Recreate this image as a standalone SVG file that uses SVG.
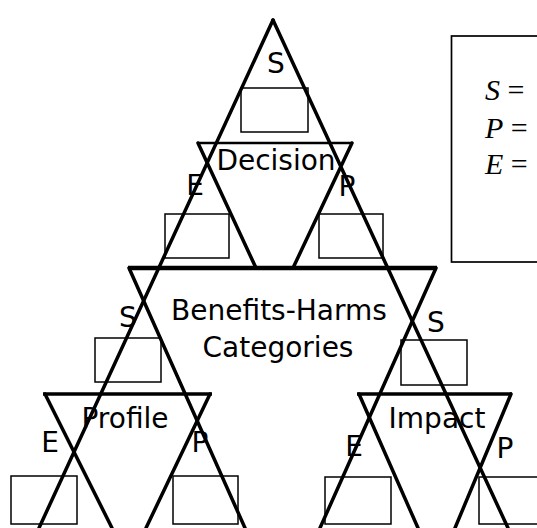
<svg xmlns="http://www.w3.org/2000/svg" width="537" height="528" viewBox="0 0 537 528">
<style>
.lbl{font-family:"DejaVu Sans","Liberation Sans",sans-serif;font-size:28px;fill:#000;text-anchor:middle}
.box{fill:none;stroke:#000;stroke-width:1.5}
.bar{stroke:#000;stroke-linecap:butt}
.ln{stroke:#000;stroke-width:3.5;stroke-linecap:round;fill:none}
.leg{font-family:"Liberation Serif","Times New Roman",serif;font-size:30px;fill:#000}
</style>
<rect width="537" height="528" fill="#fff"/>
<g id="legend">
<rect x="451.5" y="36" width="100" height="226" fill="none" stroke="#000" stroke-width="1.7"/>
<text class="leg" x="485" y="100"><tspan font-style="italic">S</tspan> =</text>
<text class="leg" x="485" y="138"><tspan font-style="italic">P</tspan> =</text>
<text class="leg" x="485" y="174"><tspan font-style="italic">E</tspan> =</text>
</g>
<g id="node-s-top">
<text class="lbl" x="276" y="73">S</text>
<rect class="box" x="241" y="88" width="67" height="44"/>
</g>
<g id="node-decision">
<line class="bar" x1="197" y1="143" x2="353" y2="143" stroke-width="2.7"/>
<text class="lbl" x="276" y="170">Decision</text>
</g>
<g id="node-e1">
<text class="lbl" x="195" y="195">E</text>
<rect class="box" x="165" y="214" width="64" height="44"/>
</g>
<g id="node-p1">
<text class="lbl" x="347" y="196">P</text>
<rect class="box" x="319" y="214" width="64" height="44"/>
</g>
<g id="node-benefits">
<line class="bar" x1="128" y1="268" x2="437" y2="268" stroke-width="4.3"/>
<text class="lbl" x="279" y="320">Benefits-Harms</text>
<text class="lbl" x="278" y="357">Categories</text>
</g>
<g id="node-s-left">
<text class="lbl" x="128" y="327">S</text>
<rect class="box" x="95" y="338" width="66" height="44"/>
</g>
<g id="node-s-right">
<text class="lbl" x="436" y="332">S</text>
<rect class="box" x="401" y="340" width="66" height="45"/>
</g>
<g id="node-profile">
<line class="bar" x1="43" y1="394" x2="212" y2="394" stroke-width="3.4"/>
<text class="lbl" x="125" y="428">Profile</text>
</g>
<g id="node-impact">
<line class="bar" x1="357" y1="394" x2="512" y2="394" stroke-width="3.4"/>
<text class="lbl" x="437" y="428">Impact</text>
</g>
<g id="node-profile-e">
<text class="lbl" x="50" y="452">E</text>
<rect class="box" x="11" y="476" width="66" height="48"/>
</g>
<g id="node-profile-p">
<text class="lbl" x="200" y="452">P</text>
<rect class="box" x="173" y="476" width="65" height="48"/>
</g>
<g id="node-impact-e">
<text class="lbl" x="354" y="456">E</text>
<rect class="box" x="325" y="477" width="66" height="47"/>
</g>
<g id="node-impact-p">
<text class="lbl" x="505" y="458">P</text>
<rect class="box" x="479" y="477" width="66" height="47"/>
</g>
<g id="connectors">
<line class="ln" x1="273" y1="20" x2="39" y2="528"/>
<line class="ln" x1="273" y1="20" x2="508" y2="528"/>
<line class="ln" x1="198" y1="143" x2="256" y2="268"/>
<line class="ln" x1="352" y1="143" x2="293" y2="268"/>
<line class="ln" x1="129" y1="268" x2="245" y2="528"/>
<line class="ln" x1="436" y1="268" x2="320" y2="528"/>
<line class="ln" x1="45" y1="394" x2="112" y2="528"/>
<line class="ln" x1="210" y1="394" x2="146" y2="528"/>
<line class="ln" x1="359" y1="394" x2="418" y2="528"/>
<line class="ln" x1="511" y1="394" x2="455" y2="528"/>
</g>
</svg>
